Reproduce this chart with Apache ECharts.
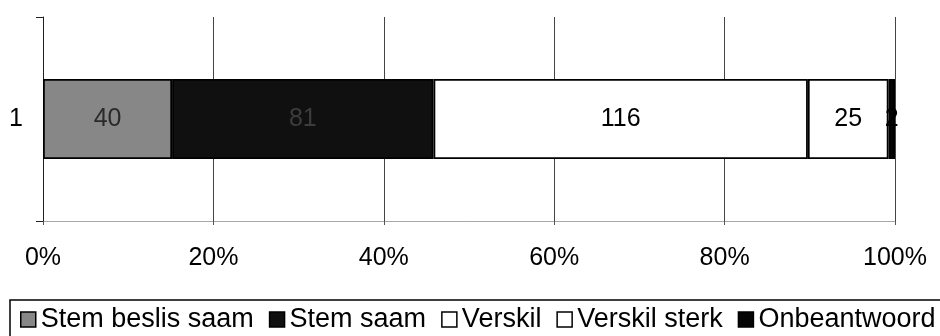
<!DOCTYPE html>
<html>
<head>
<meta charset="utf-8">
<script src="https://cdn.jsdelivr.net/npm/echarts@6/dist/echarts.min.js"></script>
<style>
  html, body { margin: 0; padding: 0; background: #fff; }
  #chart { width: 940px; height: 336px; }
</style>
</head>
<body>
<div id="chart"></div>
<script>
// Response counts per answer option (one survey question)
const categories = ['1'];
const seriesNames = ['Stem beslis saam', 'Stem saam', 'Verskil', 'Verskil sterk', 'Onbeantwoord'];
const stemBeslisSaam = [40];
const stemSaam = [81];
const verskil = [116];
const verskilSterk = [25];
const onbeantwoord = [2];
const xTickValues = [0, 20, 40, 60, 80, 100];

const FONT = 'Liberation Sans, Arial, sans-serif';
const counts = [stemBeslisSaam, stemSaam, verskil, verskilSterk, onbeantwoord];
const totals = categories.map((_, i) => counts.reduce((s, arr) => s + arr[i], 0));

const fills = ['#878787', '#101010', '#ffffff', '#ffffff', '#050505'];
const labelColors = ['#2a2a2a', '#3c3c3c', '#000000', '#000000', '#000000'];

// 100% stacked bars: each segment is its share of the row total, labelled with the raw count
const series = seriesNames.map((name, k) => ({
  name,
  type: 'bar',
  stack: 'total',
  barWidth: 80,
  data: counts[k].map((v, i) => ({ value: v / totals[i] * 100, raw: v })),
  itemStyle: { color: fills[k], borderColor: '#000', borderWidth: 1.8 },
  label: {
    show: true,
    position: 'inside',
    fontFamily: FONT,
    fontSize: 25,
    color: labelColors[k],
    formatter: p => String(p.data.raw)
  }
}));

const chart = echarts.init(document.getElementById('chart'), null, { renderer: 'canvas' });
chart.setOption({
  animation: false,
  backgroundColor: '#fff',
  grid: { left: 43, right: 45, top: 17, bottom: 115, containLabel: false },
  xAxis: {
    type: 'value',
    min: xTickValues[0],
    max: xTickValues[xTickValues.length - 1],
    interval: xTickValues[1] - xTickValues[0],
    axisLine: { show: true, lineStyle: { color: '#a8a8a8', width: 1 } },
    axisTick: { show: true, length: 4, lineStyle: { color: '#555' } },
    splitLine: { show: true, lineStyle: { color: '#444', width: 1 } },
    axisLabel: { fontFamily: FONT, fontSize: 25, color: '#000', margin: 25, formatter: '{value}%' }
  },
  yAxis: {
    type: 'category',
    data: categories,
    axisLine: { show: true, lineStyle: { color: '#222', width: 1 } },
    axisTick: { show: true, length: 7, lineStyle: { color: '#222' } },
    axisLabel: { fontFamily: FONT, fontSize: 25, color: '#000', margin: 20 }
  },
  legend: {
    left: 15,
    top: 301,
    width: 1200,
    icon: 'rect',
    itemWidth: 15,
    itemHeight: 15,
    itemGap: 15,
    textStyle: { fontFamily: FONT, fontSize: 27, color: '#000' },
    data: seriesNames.map((n, k) => ({
      name: n,
      itemStyle: { color: fills[k], borderColor: '#000', borderWidth: 1.5 }
    }))
  },
  graphic: [{
    type: 'rect',
    shape: { x: 10, y: 300, width: 940, height: 60 },
    style: { fill: 'none', stroke: '#000', lineWidth: 1.5 },
    silent: true
  }],
  series
});
</script>
</body>
</html>
